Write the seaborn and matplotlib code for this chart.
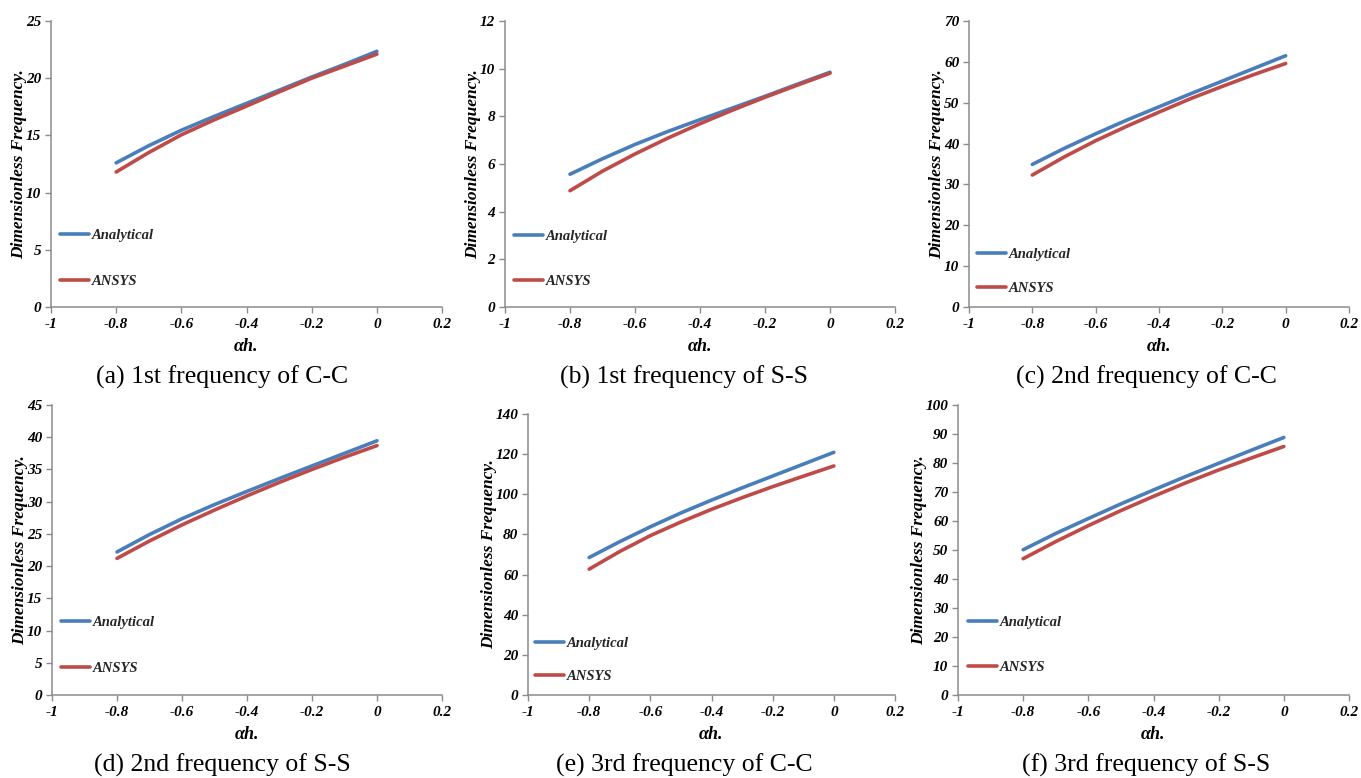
import matplotlib
matplotlib.use("Agg")
import matplotlib.pyplot as plt
import seaborn as sns
import pandas as pd
from matplotlib.ticker import FixedLocator, FixedFormatter

sns.set_theme(style="white")
plt.rcParams['font.family'] = ['Liberation Serif', 'DejaVu Serif']

# ---------------- data ----------------
alpha_h = [-0.8, -0.7, -0.6, -0.5, -0.4, -0.3, -0.2, -0.1, 0.0]
series_names = ["Analytical", "ANSYS"]

a_analytical = [12.6, 14.1, 15.45, 16.65, 17.8, 18.95, 20.1, 21.2, 22.35]
a_ansys      = [11.8, 13.5, 15.05, 16.35, 17.56, 18.8, 20.0, 21.05, 22.1]

b_analytical = [5.57, 6.22, 6.82, 7.36, 7.86, 8.35, 8.84, 9.35, 9.85]
b_ansys      = [4.88, 5.70, 6.42, 7.08, 7.69, 8.26, 8.80, 9.31, 9.81]

c_analytical = [34.9, 38.8, 42.4, 45.8, 49.0, 52.2, 55.3, 58.4, 61.5]
c_ansys      = [32.3, 36.7, 40.7, 44.3, 47.7, 51.0, 54.0, 56.9, 59.6]

d_analytical = [22.2, 24.9, 27.35, 29.55, 31.6, 33.6, 35.55, 37.5, 39.45]
d_ansys      = [21.2, 23.9, 26.4, 28.7, 30.9, 33.0, 35.0, 36.9, 38.7]

e_analytical = [68.5, 76.4, 83.8, 90.7, 97.1, 103.2, 109.1, 115.0, 120.9]
e_ansys      = [62.7, 71.5, 79.4, 86.2, 92.5, 98.3, 103.8, 109.0, 114.1]

f_analytical = [50.1, 55.7, 60.85, 65.9, 70.7, 75.4, 79.9, 84.4, 88.8]
f_ansys      = [47.0, 52.9, 58.4, 63.6, 68.5, 73.2, 77.6, 81.7, 85.7]

captions = ["(a) 1st frequency of C-C", "(b) 1st frequency of S-S",
            "(c) 2nd frequency of C-C", "(d) 2nd frequency of S-S",
            "(e) 3rd frequency of C-C", "(f) 3rd frequency of S-S"]

x_ticks = [-1, -0.8, -0.6, -0.4, -0.2, 0, 0.2]
x_tick_labels = ["-1", "-0.8", "-0.6", "-0.4", "-0.2", "0", "0.2"]

y_ticks_list = [
    [0, 5, 10, 15, 20, 25],
    [0, 2, 4, 6, 8, 10, 12],
    [0, 10, 20, 30, 40, 50, 60, 70],
    [0, 5, 10, 15, 20, 25, 30, 35, 40, 45],
    [0, 20, 40, 60, 80, 100, 120, 140],
    [0, 10, 20, 30, 40, 50, 60, 70, 80, 90, 100],
]

panels = [
    (a_analytical, a_ansys), (b_analytical, b_ansys), (c_analytical, c_ansys),
    (d_analytical, d_ansys), (e_analytical, e_ansys), (f_analytical, f_ansys),
]

x_label = "αh."
y_label = "Dimensionless Frequency."

# ---------------- layout (pixels in a 1361x778 canvas) ----------------
W, H = 1361, 778
# left, top, right, bottom of each axes
boxes = [
    (51, 21, 442, 307), (505, 21, 895, 307), (969, 21, 1349, 307),
    (52, 405, 442, 695), (528, 414, 895, 695), (958, 405, 1349, 695),
]
# legend: handle start x, first entry y, second entry y (pixels)
legend_pos = [
    (60, 235, 282), (514, 236, 282), (977, 254, 289),
    (61, 622, 669), (535, 643, 677), (968, 622, 668),
]
caption_pos = [(222, 377), (684, 377), (1146, 377),
               (222, 765), (684, 765), (1146, 765)]

palette = {"Analytical": "#4A7EBB", "ANSYS": "#BE4B48"}
axis_color = "#8C8C8C"

fig = plt.figure(figsize=(W / 100, H / 100), dpi=100)
fig.patch.set_facecolor("white")

for i, (an, ans) in enumerate(panels):
    l, t, r, b = boxes[i]
    ax = fig.add_axes([l / W, (H - b) / H, (r - l) / W, (b - t) / H])
    df = pd.DataFrame({
        "ah": alpha_h * 2,
        "freq": list(an) + list(ans),
        "method": [series_names[0]] * len(alpha_h) + [series_names[1]] * len(alpha_h),
    })
    sns.lineplot(data=df, x="ah", y="freq", hue="method", palette=palette,
                 linewidth=2.6, ax=ax, legend=False)
    for ln in ax.get_lines():
        ln.set_solid_capstyle("round")
        ln.set_solid_joinstyle("round")
    yt = y_ticks_list[i]
    ax.set_xlim(-1, 0.2)
    ax.set_ylim(yt[0], yt[-1])
    ax.xaxis.set_major_locator(FixedLocator(x_ticks))
    ax.xaxis.set_major_formatter(FixedFormatter(x_tick_labels))
    ax.yaxis.set_major_locator(FixedLocator(yt))
    ax.set_yticklabels([str(v) for v in yt])
    for lab in ax.get_xticklabels() + ax.get_yticklabels():
        lab.set_fontfamily("Liberation Serif")
        lab.set_fontweight("bold")
        lab.set_fontstyle("italic")
        lab.set_fontsize(11)
        lab.set_color("black")
    ax.tick_params(axis="both", direction="out", length=4, width=1,
                   color=axis_color, pad=4, left=True, bottom=True)
    ax.tick_params(axis="y", pad=3)
    for s in ["top", "right"]:
        ax.spines[s].set_visible(False)
    for s in ["left", "bottom"]:
        ax.spines[s].set_color(axis_color)
        ax.spines[s].set_linewidth(1.1)
    ax.set_facecolor("white")
    ax.grid(False)
    ax.set_xlabel(x_label, fontfamily="Liberation Serif", fontweight="bold",
                  fontstyle="italic", fontsize=13, labelpad=5, color="black")
    ax.set_ylabel(y_label, fontfamily="Liberation Serif", fontweight="bold",
                  fontstyle="italic", fontsize=12.5, labelpad=-1, color="black")

    # legend
    hx, y1, y2 = legend_pos[i]
    lines = ax.get_lines()[:2]
    fs = 10.5
    gap_px = (y2 - y1)
    font_px = fs * 100 / 72
    spacing = (gap_px - font_px) / font_px
    cy = (y1 + y2) / 2
    leg = ax.legend(lines, series_names, loc="center left",
                    bbox_to_anchor=((hx - l) / (r - l), (b - cy) / (b - t)),
                    frameon=False, handlelength=2.0, handletextpad=0.2,
                    borderpad=0, borderaxespad=0, labelspacing=spacing,
                    prop=dict(family="Liberation Serif", weight="bold",
                              style="italic", size=fs))
    for lh in leg.get_lines():
        lh.set_linewidth(2.6)

    cx, cyy = caption_pos[i]
    fig.text(cx / W, (H - cyy) / H, captions[i], ha="center", va="center",
             fontfamily="Liberation Serif", fontsize=18.5, color="black")

fig.savefig("out.png", dpi=100, facecolor="white")
